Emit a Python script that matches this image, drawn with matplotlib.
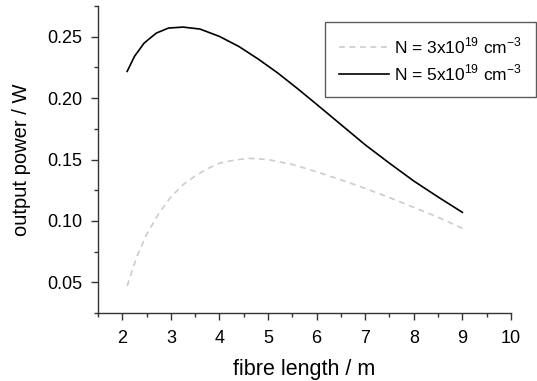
import matplotlib
matplotlib.use('Agg')
import matplotlib.pyplot as plt
from matplotlib.ticker import MultipleLocator

plt.rcParams['font.family'] = ['Liberation Sans', 'DejaVu Sans']
plt.rcParams['mathtext.fontset'] = 'custom'
plt.rcParams['mathtext.rm'] = 'Liberation Sans'

# fibre length (m) and output power (W)
len_3e19 = [2.1, 2.3, 2.5, 2.75, 3.0, 3.25, 3.5, 3.75, 4.0, 4.3, 4.6, 5.0, 5.5, 6.0, 6.5, 7.0, 7.5, 8.0, 8.5, 9.0]
pow_3e19 = [0.047, 0.071, 0.089, 0.106, 0.1195, 0.1295, 0.1365, 0.1425, 0.147, 0.1495, 0.151, 0.150,
            0.146, 0.140, 0.1335, 0.1265, 0.119, 0.111, 0.103, 0.094]

len_5e19 = [2.1, 2.25, 2.45, 2.7, 2.95, 3.25, 3.6, 4.0, 4.4, 4.8, 5.2, 5.6, 6.0, 6.5, 7.0, 7.5, 8.0, 8.5, 9.0]
pow_5e19 = [0.2218, 0.234, 0.2449, 0.253, 0.2571, 0.2579, 0.2563, 0.2503, 0.2421, 0.2318, 0.2205,
            0.2080, 0.1950, 0.1785, 0.162, 0.147, 0.1325, 0.1195, 0.107]

labels = [r'N = 3x10$^{19}$ cm$^{-3}$', r'N = 5x10$^{19}$ cm$^{-3}$']

fig = plt.figure(figsize=(5.37, 3.81), dpi=100)
ax = fig.add_axes([0.1825, 0.1785, 0.769, 0.8055])

ax.plot(len_3e19, pow_3e19, color='#cccccc', lw=1.2, ls=(0, (3.5, 2.8)), label=labels[0])
ax.plot(len_5e19, pow_5e19, color='black', lw=1.2, label=labels[1])

ax.set_xlim(1.5, 10)
ax.set_ylim(0.025, 0.275)
ax.xaxis.set_major_locator(MultipleLocator(1))
ax.xaxis.set_minor_locator(MultipleLocator(0.5))
ax.yaxis.set_minor_locator(MultipleLocator(0.025))
ax.set_yticks([0.05, 0.10, 0.15, 0.20, 0.25])
ax.set_yticklabels(['0.05', '0.10', '0.15', '0.20', '0.25'])

for s in ['top', 'right']:
    ax.spines[s].set_visible(False)
for s in ['left', 'bottom']:
    ax.spines[s].set_linewidth(1.0)
    ax.spines[s].set_color('#333333')
ax.tick_params(which='major', direction='out', length=5, width=1, labelsize=13, colors='#333333',
               labelcolor='black')
ax.tick_params(axis='y', which='major', pad=6)
ax.tick_params(axis='x', which='major', pad=7)
ax.tick_params(which='minor', direction='out', length=3, width=1, colors='#333333')

ax.set_xlabel('fibre length / m', fontsize=15.5, labelpad=9)
ax.set_ylabel('output power / W', fontsize=14.5, labelpad=12)

leg = fig.legend(loc='upper right', bbox_to_anchor=(536 / 537, 1 - 22 / 381), borderaxespad=0,
                 fontsize=12.5, frameon=True, fancybox=False, handlelength=2.9, handletextpad=0.3,
                 labelspacing=0.35, borderpad=0.8)
leg.get_frame().set_edgecolor('#333333')
leg.get_frame().set_linewidth(1.0)

fig.savefig('out.png', dpi=100)
